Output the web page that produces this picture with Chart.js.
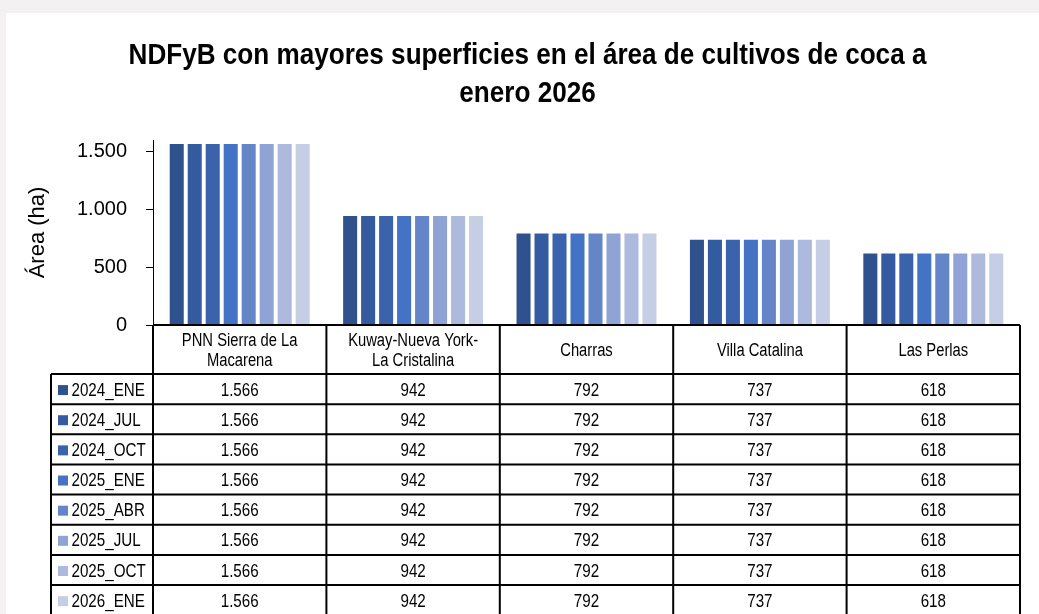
<!DOCTYPE html>
<html>
<head>
<meta charset="utf-8">
<script src="https://cdn.jsdelivr.net/npm/chart.js@4/dist/chart.umd.min.js"></script>
<style>
  html, body { margin: 0; padding: 0; background: #f3f1f1; }
  #sheet { position: absolute; left: 6px; top: 13px; width: 1033px; height: 601px; background: #fff; }
  #wrap { position: absolute; left: 0; top: 0; width: 1039px; height: 614px; }
</style>
</head>
<body>
<div id="sheet"></div>
<div id="wrap"><canvas id="chart"></canvas></div>
<script>
// ── Data ─────────────────────────────────────────────────
const titleLines = ['NDFyB con mayores superficies en el área de cultivos de coca a', 'enero 2026'];
const categories = [
  ['PNN Sierra de La', 'Macarena'],
  ['Kuway-Nueva York-', 'La Cristalina'],
  'Charras',
  'Villa Catalina',
  'Las Perlas',
];
const seriesNames = ['2024_ENE', '2024_JUL', '2024_OCT', '2025_ENE', '2025_ABR', '2025_JUL', '2025_OCT', '2026_ENE'];
const s2024Ene = [1566, 942, 792, 737, 618];
const s2024Jul = [1566, 942, 792, 737, 618];
const s2024Oct = [1566, 942, 792, 737, 618];
const s2025Ene = [1566, 942, 792, 737, 618];
const s2025Abr = [1566, 942, 792, 737, 618];
const s2025Jul = [1566, 942, 792, 737, 618];
const s2025Oct = [1566, 942, 792, 737, 618];
const s2026Ene = [1566, 942, 792, 737, 618];
const seriesValues = [s2024Ene, s2024Jul, s2024Oct, s2025Ene, s2025Abr, s2025Jul, s2025Oct, s2026Ene];
const yTicks = [0, 500, 1000, 1500];

const seriesColors = ['#2f528f', '#345a9f', '#3a63ab', '#4472c4', '#6585c9', '#8fa3d4', '#aebadd', '#c6cee6'];

const FONT = "'Liberation Sans', Arial, sans-serif";

// 1566 -> "1.566"
const fmt = v => String(v).replace(/\B(?=(\d{3})+(?!\d))/g, '.');

// no Arial Narrow here, so squeeze the regular face horizontally
function narrowText(ctx, text, x, y, align, sx) {
  ctx.save();
  ctx.translate(x, y);
  ctx.scale(sx, 1);
  ctx.textAlign = align;
  ctx.fillText(text, 0, 0);
  ctx.restore();
}

// ── Title (condensed bold, like the Excel original) ──────
const narrowTitle = {
  id: 'narrowTitle',
  afterDraw(chart) {
    const { ctx } = chart;
    ctx.save();
    ctx.fillStyle = '#000';
    ctx.font = 'bold 30px ' + FONT;
    ctx.textBaseline = 'alphabetic';
    titleLines.forEach((ln, i) => narrowText(ctx, ln, 527.5, 63.5 + i * 38, 'center', 0.87));
    ctx.restore();
  }
};

// ── Data table under the plot (Excel style) ──────────────
const dataTable = {
  id: 'dataTable',
  afterDraw(chart) {
    const { ctx, chartArea } = chart;
    const x = chart.scales.x;
    const n = categories.length;
    const catW = (x.right - x.left) / n;
    const top = chartArea.bottom;
    const headH = 49, rowH = 30.15;
    const legL = 51;
    const rowsTop = top + headH;
    const bottom = rowsTop + rowH * seriesNames.length;
    const SX = 0.82;

    ctx.save();
    ctx.fillStyle = '#000';
    ctx.textBaseline = 'middle';

    // header: category names
    ctx.font = '18px ' + FONT;
    categories.forEach((c, i) => {
      const cx = x.getPixelForValue(i);
      const lines = Array.isArray(c) ? c : [c];
      const cy = top + headH / 2 + 2;
      lines.forEach((ln, k) => {
        narrowText(ctx, ln, cx, cy + (k - (lines.length - 1) / 2) * 20, 'center', SX);
      });
    });

    // rows: legend key + values
    ctx.font = '18.5px ' + FONT;
    seriesNames.forEach((name, r) => {
      const cy = rowsTop + rowH * r + rowH / 2 + 1.5;
      ctx.fillStyle = seriesColors[r];
      ctx.fillRect(legL + 7, cy - 5.5, 10, 10);
      ctx.fillStyle = '#000';
      narrowText(ctx, name, legL + 20.5, cy, 'left', SX);
      seriesValues[r].forEach((v, i) => narrowText(ctx, fmt(v), x.getPixelForValue(i), cy, 'center', SX));
    });

    // grid lines
    ctx.strokeStyle = '#000';
    ctx.lineWidth = 2;
    ctx.beginPath();
    ctx.moveTo(x.left, top); ctx.lineTo(x.right, top);
    for (let r = 0; r <= seriesNames.length; r++) {
      const y = rowsTop + rowH * r;
      ctx.moveTo(legL, y); ctx.lineTo(x.right, y);
    }
    for (let i = 0; i <= n; i++) {
      const cx = x.left + catW * i;
      ctx.moveTo(cx, top); ctx.lineTo(cx, bottom);
    }
    ctx.moveTo(legL, rowsTop); ctx.lineTo(legL, bottom);
    ctx.stroke();
    ctx.restore();
  }
};

new Chart(document.getElementById('chart'), {
  type: 'bar',
  data: {
    labels: categories,
    datasets: seriesNames.map((name, i) => ({
      label: name,
      data: seriesValues[i],
      backgroundColor: seriesColors[i],
      borderWidth: 0,
      barPercentage: 0.78,
      categoryPercentage: 0.83,
    })),
  },
  options: {
    responsive: true, maintainAspectRatio: false,
    animation: false,
    layout: { padding: { left: 0, right: 19, top: 140, bottom: 289 } },
    plugins: {
      legend: { display: false },
      tooltip: { enabled: false },
      title: { display: false },
    },
    scales: {
      x: { display: false },
      y: {
        min: 0, max: 1600,
        afterFit: s => { s.width = 153; },
        afterBuildTicks: s => { s.ticks = yTicks.map(v => ({ value: v })); },
        ticks: { color: '#000', font: { family: FONT, size: 20 }, padding: 19, callback: v => fmt(v) },
        grid: { drawOnChartArea: false, drawTicks: true, tickLength: 7, color: '#000', lineWidth: 1 },
        border: { display: true, color: '#000', width: 1 },
        title: {
          display: true, text: 'Área (ha)', color: '#000',
          font: { family: FONT, size: 22, lineHeight: 1.2 },
          padding: { top: 25, bottom: 0 },
        },
      },
    },
  },
  plugins: [dataTable, narrowTitle],
});
</script>
</body>
</html>
